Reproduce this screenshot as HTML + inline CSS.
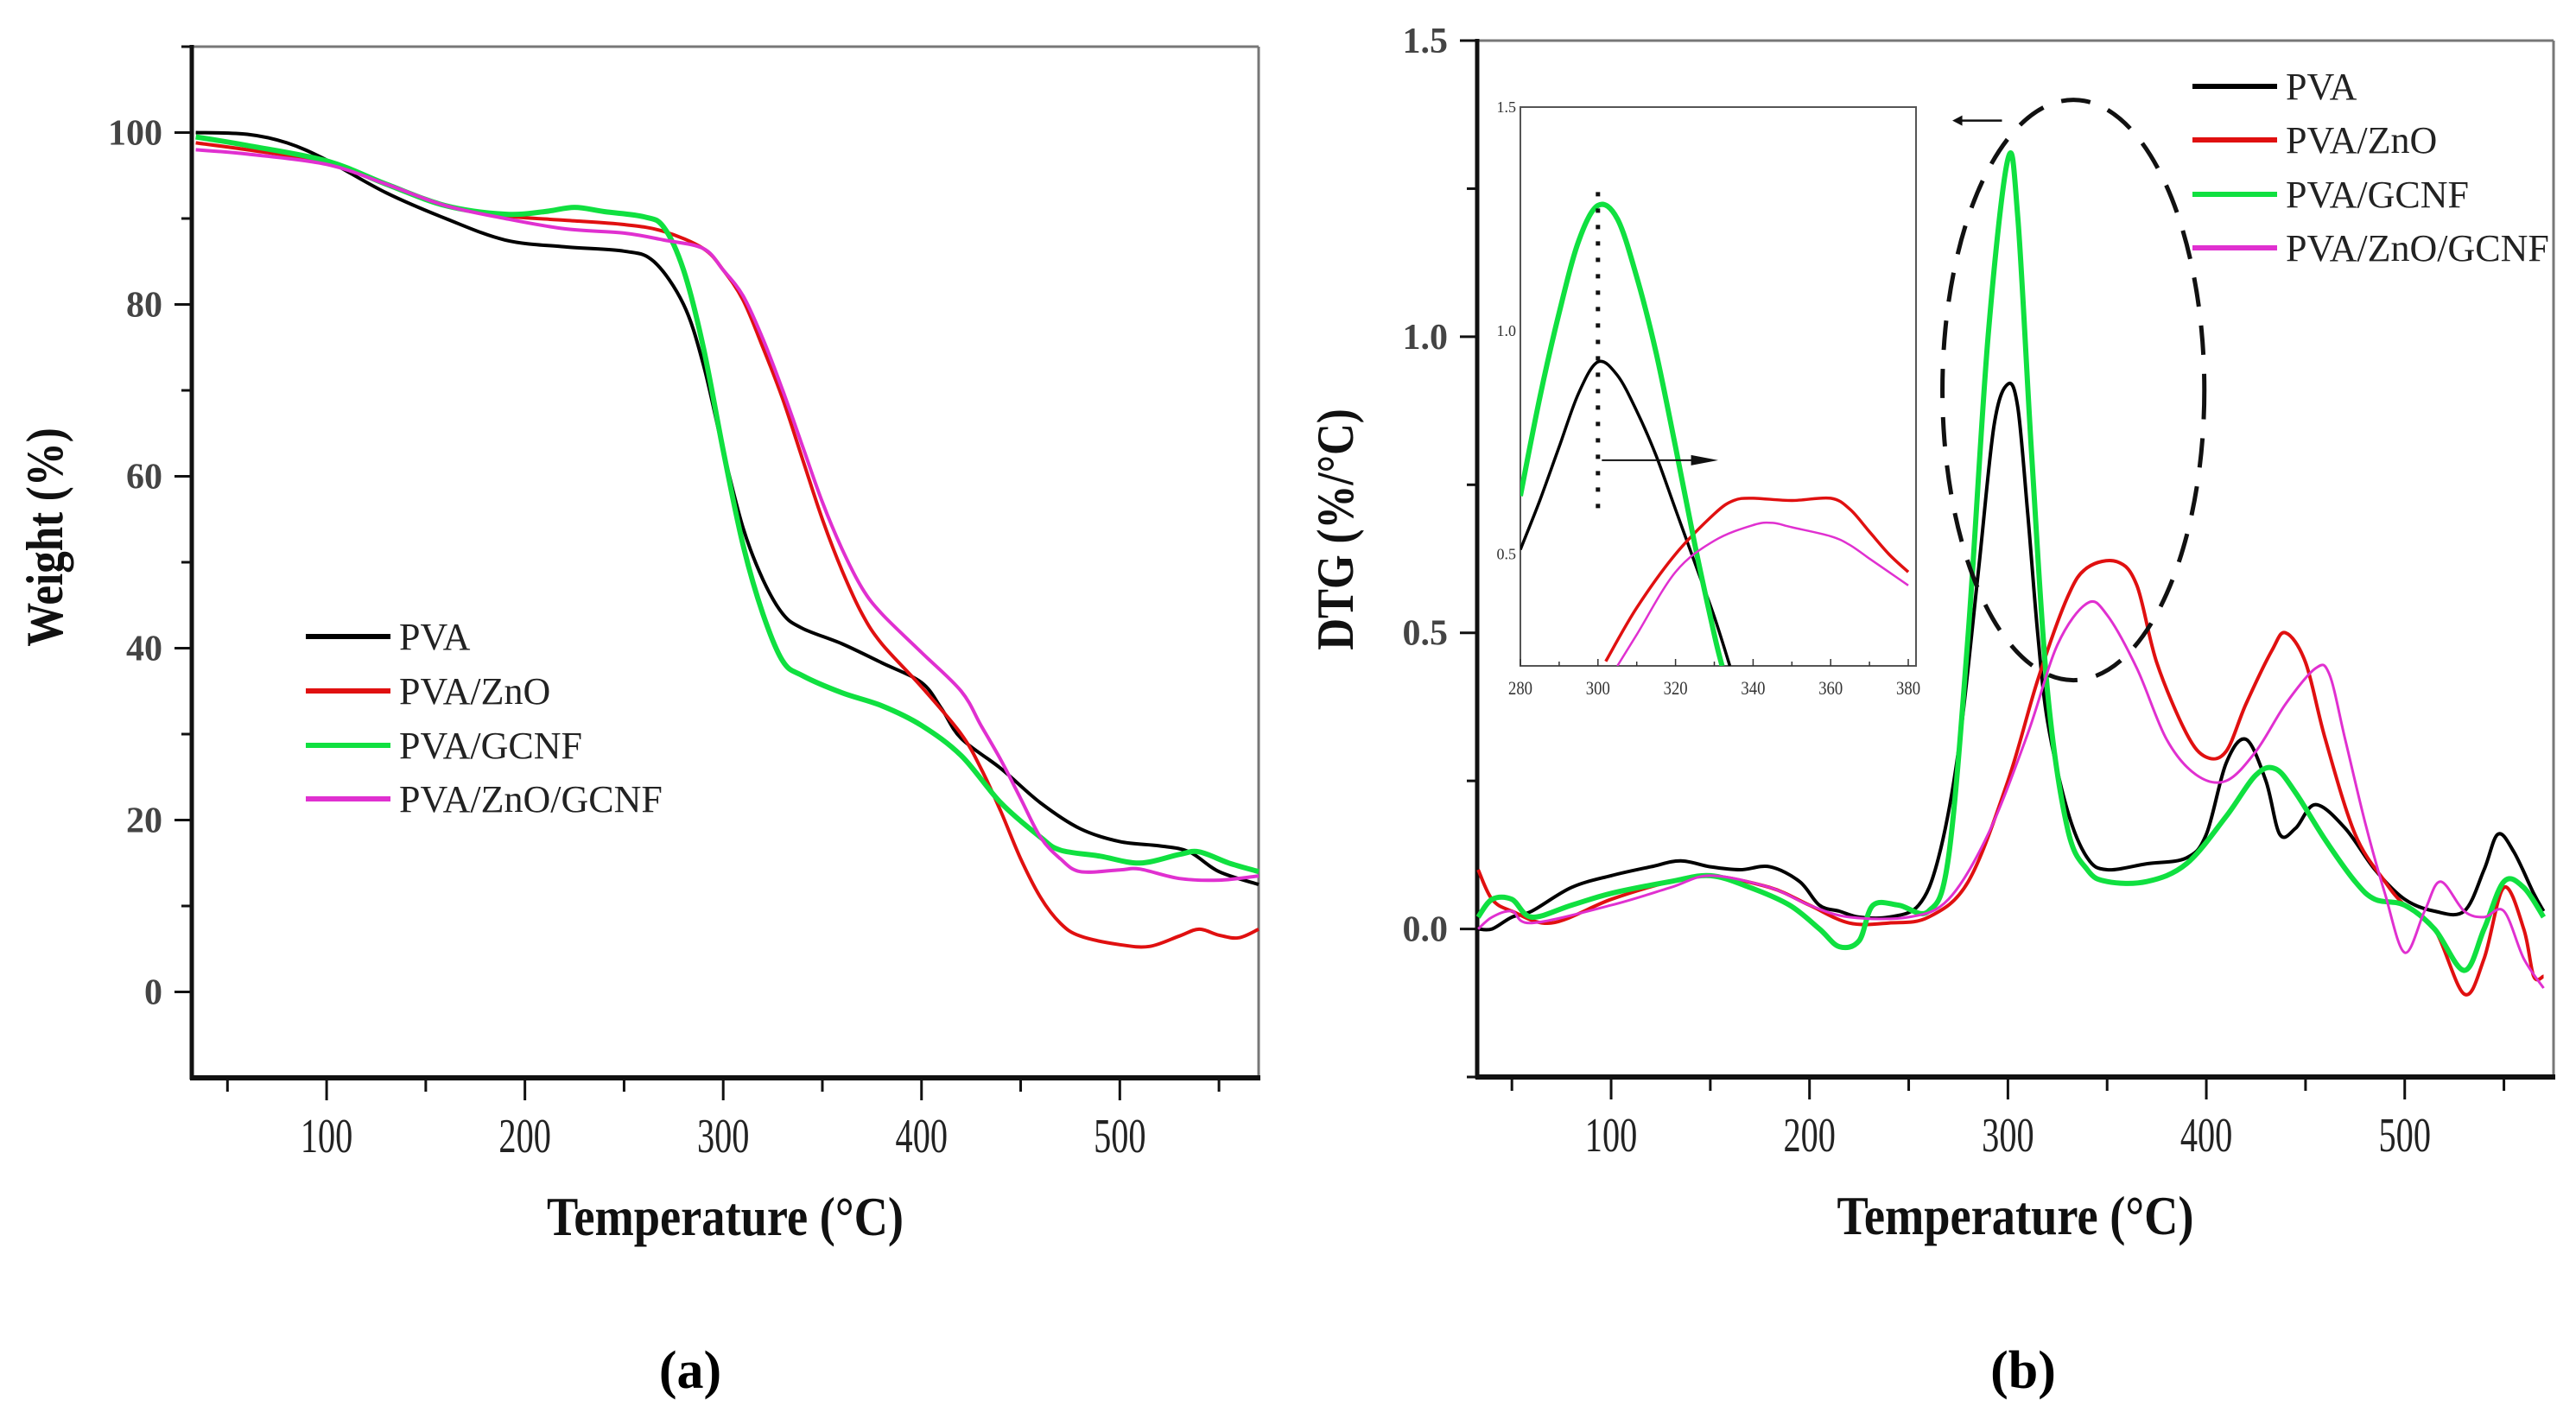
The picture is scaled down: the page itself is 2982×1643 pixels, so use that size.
<!DOCTYPE html>
<html><head><meta charset="utf-8">
<style>
html,body{margin:0;padding:0;background:#fff;}
svg{display:block;}
text{font-family:"Liberation Serif",serif;}
</style></head>
<body>
<svg id="fig" width="2982" height="1643" viewBox="0 0 2982 1643" xmlns="http://www.w3.org/2000/svg">
<g id="gA"></g>
<g id="gB"></g>
<text x="799" y="1607" font-family="Liberation Sans,sans-serif" font-weight="bold" font-size="62" text-anchor="middle">(a)</text>
<text x="2342" y="1607" font-family="Liberation Sans,sans-serif" font-weight="bold" font-size="62" text-anchor="middle">(b)</text>
</svg>
<script>
// ---------- Data: panel (a) TGA ----------
const tgaSeriesNames = ["PVA","PVA/ZnO","PVA/GCNF","PVA/ZnO/GCNF"];
const tgaPVA_T = [34,60,80,100,130,160,190,220,250,265,280,290,300,310,320,330,340,360,380,400,410,420,440,460,480,500,520,535,550,570];
const tgaPVA_W = [100,99.8,98.8,96.8,93,90,87.5,86.7,86.2,85,80,73,63,54,48,44,42.3,40.5,38.3,36,33,29.5,26,22,19,17.5,17,16.3,14,12.5];
const tgaZnO_T = [34,60,100,130,160,190,220,250,270,290,300,310,320,330,340,350,360,370,380,400,420,430,440,450,460,470,480,500,515,530,540,550,560,570];
const tgaZnO_W = [98.8,98,96.5,94,91.5,90.3,89.8,89.3,88.5,86.5,84,80.5,75,69,62,55,49,44,40.5,35.5,30,26,21,15.5,11,8,6.5,5.5,5.3,6.5,7.3,6.6,6.3,7.3];
const tgaGCNF_T = [34,60,100,130,160,190,210,225,240,260,270,280,290,300,310,320,330,340,360,380,400,420,440,460,470,490,510,530,540,555,570];
const tgaGCNF_W = [99.5,98.5,96.7,94,91.5,90.5,90.8,91.3,90.8,90.2,89,84,75,63,52,44,38.5,36.8,34.8,33.3,31,27.5,22,18,16.5,15.8,15,16,16.3,15,14];
const tgaZG_T = [34,60,100,130,160,190,220,250,270,290,300,310,320,330,340,350,360,370,380,400,420,430,440,450,460,470,480,500,510,530,550,570];
const tgaZG_W = [98,97.5,96.3,94,91.5,90,88.8,88.3,87.5,86.5,84,81,76,70,63.5,57,51.5,47,44,39.5,35,31,27,22.5,18,15.5,14,14.2,14.3,13.2,13,13.5];
const tgaXTicks = [100,200,300,400,500];
const tgaYTicks = [0,20,40,60,80,100];

// ---------- Data: panel (b) DTG ----------
const dtgPVA_T = [33,40,50,60,80,100,120,135,150,165,180,195,205,215,225,240,255,265,275,285,293,300,305,310,315,320,330,340,350,370,390,400,410,420,430,437,445,455,470,485,500,515,530,540,547,555,565,570];
const dtgPVA_V = [0,0,0.02,0.03,0.07,0.09,0.105,0.115,0.105,0.1,0.105,0.08,0.04,0.03,0.02,0.02,0.04,0.12,0.3,0.6,0.85,0.92,0.88,0.7,0.5,0.35,0.2,0.12,0.1,0.11,0.12,0.16,0.28,0.32,0.25,0.16,0.17,0.21,0.17,0.1,0.05,0.03,0.03,0.1,0.16,0.13,0.06,0.03];
const dtgZnO_T = [33,40,50,70,100,130,150,180,200,220,240,260,280,300,315,330,340,355,365,375,390,400,410,420,433,440,450,460,475,490,500,515,530,540,550,560,565,570];
const dtgZnO_V = [0.1,0.05,0.03,0.01,0.05,0.08,0.09,0.07,0.04,0.01,0.01,0.02,0.08,0.25,0.42,0.56,0.61,0.62,0.58,0.45,0.33,0.29,0.3,0.38,0.47,0.5,0.45,0.32,0.16,0.08,0.04,0,-0.11,-0.05,0.07,0,-0.08,-0.08];
const dtgGCNF_T = [33,40,50,60,80,100,130,150,170,190,205,215,225,232,245,260,270,280,290,300,305,312,320,330,340,350,370,390,410,425,435,445,460,475,485,500,515,530,540,550,560,570];
const dtgGCNF_V = [0.02,0.05,0.05,0.02,0.04,0.06,0.08,0.09,0.07,0.04,0,-0.03,-0.02,0.04,0.04,0.03,0.12,0.5,1.0,1.3,1.2,0.8,0.4,0.17,0.1,0.08,0.08,0.11,0.19,0.26,0.27,0.23,0.15,0.08,0.05,0.04,0,-0.07,0,0.08,0.07,0.02];
const dtgZG_T = [33,40,50,60,100,130,150,180,200,220,250,270,290,310,325,340,350,365,380,395,410,425,440,455,462,470,480,490,500,510,518,530,540,550,560,570];
const dtgZG_V = [0,0.02,0.03,0.01,0.04,0.07,0.09,0.07,0.04,0.02,0.02,0.05,0.16,0.33,0.48,0.55,0.53,0.44,0.32,0.26,0.25,0.3,0.38,0.44,0.43,0.32,0.18,0.06,-0.04,0.03,0.08,0.03,0.02,0.03,-0.05,-0.1];
const dtgXTicks = [100,200,300,400,500];
const dtgYTicks = [0,0.5,1.0,1.5];
const dtgYTickLabels = ["0.0","0.5","1.0","1.5"];

// ---------- Data: inset ----------
const insPVA_T = [280,285,290,295,300,305,310,315,320,325,330,334];
const insPVA_V = [0.51,0.62,0.74,0.86,0.93,0.9,0.82,0.72,0.6,0.48,0.36,0.25];
const insGCNF_T = [280,285,290,295,300,305,310,315,320,325,330,332];
const insGCNF_V = [0.63,0.85,1.04,1.2,1.28,1.25,1.12,0.95,0.74,0.52,0.32,0.25];
const insZnO_T = [302,310,320,330,335,340,350,360,365,370,375,380];
const insZnO_V = [0.26,0.38,0.5,0.59,0.62,0.625,0.62,0.625,0.6,0.55,0.5,0.46];
const insZG_T = [305,310,320,330,340,345,350,360,365,370,375,380];
const insZG_V = [0.25,0.32,0.46,0.53,0.565,0.57,0.56,0.54,0.52,0.49,0.46,0.43];
const insXTicks = [280,300,320,340,360,380];
const insYTicks = [0.5,1.0,1.5];

const colors = ["#000000","#e01010","#10e040","#e030d0"];
const NS = "http://www.w3.org/2000/svg";
function mk(parent, tag, attrs){
  const e = document.createElementNS(NS, tag);
  for (const k in attrs) e.setAttribute(k, attrs[k]);
  parent.appendChild(e);
  return e;
}
function scale(d0,d1,r0,r1){ return v => r0 + (v-d0)*(r1-r0)/(d1-d0); }
function pathD(xs, ys, sx, sy){
  const P = xs.map((t,i)=>[sx(t), sy(ys[i])]);
  let d = "M" + P[0][0].toFixed(1) + "," + P[0][1].toFixed(1);
  for (let i=0;i<P.length-1;i++){
    const p0 = P[Math.max(0,i-1)], p1 = P[i], p2 = P[i+1], p3 = P[Math.min(P.length-1,i+2)];
    const c1x = p1[0] + (p2[0]-p0[0])/6, c1y = p1[1] + (p2[1]-p0[1])/6;
    const c2x = p2[0] - (p3[0]-p1[0])/6, c2y = p2[1] - (p3[1]-p1[1])/6;
    d += "C" + c1x.toFixed(1)+","+c1y.toFixed(1)+" "+c2x.toFixed(1)+","+c2y.toFixed(1)+" "+p2[0].toFixed(1)+","+p2[1].toFixed(1);
  }
  return d;
}

function frame(g, L, R, T, B){
  const top = mk(g,"line",{x1:L,y1:T,x2:R,y2:T,stroke:"#777","stroke-width":3});
  
  
  const right = mk(g,"line",{x1:R,y1:T,x2:R,y2:B,stroke:"#777","stroke-width":3});
  
  
  const la = mk(g,"line",{x1:L,y1:T-2,x2:L,y2:B+2,stroke:"#111","stroke-width":5});
  
  
  const ba = mk(g,"line",{x1:L-2,y1:B,x2:R+2,y2:B,stroke:"#111","stroke-width":6});
  
  
}

function drawPanel(g, cfg){
  const sx = scale(cfg.x0,cfg.x1,cfg.L,cfg.R);
  const sy = scale(cfg.y0,cfg.y1,cfg.B,cfg.T);
  frame(g,cfg.L,cfg.R,cfg.T,cfg.B);
  for (let v=50; v<=cfg.x1; v+=50){
    const major = v%100===0;
    const t = mk(g,"line",{x1:sx(v),y1:cfg.B,x2:sx(v),y2:cfg.B+(major?26:16),stroke:"#111","stroke-width":3});
    
    
  }
  cfg.xTicks.forEach(v=>{
    const t = mk(g,"text",{x:0,y:0,"font-size":56,fill:"#222","text-anchor":"middle",transform:`translate(${sx(v)},${cfg.B+86}) scale(0.72,1)`});
    t.textContent = v;
    
    
  });
  cfg.yMinor.forEach(v=>{
    const t = mk(g,"line",{x1:cfg.L-12,y1:sy(v),x2:cfg.L,y2:sy(v),stroke:"#111","stroke-width":3});
    
    
  });
  cfg.yTicks.forEach((v,i)=>{
    const t = mk(g,"line",{x1:cfg.L-20,y1:sy(v),x2:cfg.L,y2:sy(v),stroke:"#111","stroke-width":3});
    
    
    const l = mk(g,"text",{x:cfg.L-34,y:sy(v)+14,"font-size":42,"font-weight":"bold",fill:"#444","text-anchor":"end"});
    l.textContent = cfg.yLabels[i];
    
    
  });
  cfg.series.forEach((s,i)=>{
    const p = mk(g,"path",{d:pathD(s[0],s[1],sx,sy),fill:"none",stroke:colors[i],"stroke-width":cfg.widths[i],"stroke-linejoin":"round"});
    
    
  });
  const xt = mk(g,"text",{x:0,y:0,"font-size":64,"font-weight":"bold",fill:"#111","text-anchor":"middle",transform:`translate(${(cfg.L+cfg.R)/2},${cfg.B+182}) scale(0.85,1)`});
  xt.textContent = "Temperature (°C)";
  
  
  const yt = mk(g,"text",{x:0,y:0,"font-size":60,"font-weight":"bold",fill:"#111","text-anchor":"middle",transform:`translate(${cfg.yTitleX},${cfg.yTitleY}) rotate(-90) scale(0.85,1)`});
  yt.textContent = cfg.yTitle;
  
  
  tgaSeriesNames.forEach((n,i)=>{
    const y = cfg.legY[i];
    const ln = mk(g,"line",{x1:cfg.legX,y1:y,x2:cfg.legX+98,y2:y,stroke:colors[i],"stroke-width":6});
    
    
    const tx = mk(g,"text",{x:cfg.legX+108,y:y+15,"font-size":44,fill:"#222"});
    tx.textContent = n;
    
    
  });
  return {sx,sy};
}

const gA = document.getElementById("gA");
drawPanel(gA,{x0:32,x1:570,y0:-10,y1:110,L:222,R:1457,T:54,B:1248,
  xTicks:tgaXTicks,yTicks:tgaYTicks,yLabels:tgaYTicks.map(String),yMinor:[10,30,50,70,90,110],
  series:[[tgaPVA_T,tgaPVA_W],[tgaZnO_T,tgaZnO_W],[tgaGCNF_T,tgaGCNF_W],[tgaZG_T,tgaZG_W]],
  widths:[4,4,6,4],yTitle:"Weight (%)",yTitleX:72,yTitleY:622,legX:354,legY:[737,800,863,925]});

const gB = document.getElementById("gB");
const B = drawPanel(gB,{x0:32.5,x1:575,y0:-0.25,y1:1.5,L:1710,R:2956,T:47,B:1247,
  xTicks:dtgXTicks,yTicks:dtgYTicks,yLabels:dtgYTickLabels,yMinor:[-0.25,0.25,0.75,1.25],
  series:[[dtgPVA_T,dtgPVA_V],[dtgZnO_T,dtgZnO_V],[dtgGCNF_T,dtgGCNF_V],[dtgZG_T,dtgZG_V]],
  widths:[4,4,6,3],yTitle:"DTG (%/°C)",yTitleX:1566,yTitleY:613,legX:2538,legY:[100,162,225,287]});

const ell = mk(gB,"ellipse",{cx:B.sx(333),cy:B.sy(0.91),rx:B.sx(399)-B.sx(333),ry:B.sy(0.42)-B.sy(0.91),fill:"none",stroke:"#111","stroke-width":5,"stroke-dasharray":"34,22"});


const arrL = mk(gB,"line",{x1:B.sx(297),y1:B.sy(1.365),x2:B.sx(275),y2:B.sy(1.365),stroke:"#111","stroke-width":2.5});


const arrH = mk(gB,"polygon",{points:`${B.sx(272)},${B.sy(1.365)} ${B.sx(277)},${B.sy(1.365)-6} ${B.sx(277)},${B.sy(1.365)+6}`,fill:"#111"});



const gI = mk(gB,"g",{});


const iL=1760,iR=2218,iT=124,iB=771;
const ix = scale(280,382,iL,iR), iy = scale(0.25,1.5,iB,iT);
const ir = mk(gI,"rect",{x:iL,y:iT,width:iR-iL,height:iB-iT,fill:"#fff",stroke:"#555","stroke-width":2});


for (let v=280; v<=380; v+=10){
  const t = mk(gI,"line",{x1:ix(v),y1:iB,x2:ix(v),y2:iB-(v%20===0?8:5),stroke:"#333","stroke-width":1.5});
  
  
}
insXTicks.forEach(v=>{
  const t = mk(gI,"text",{x:0,y:0,"font-size":22,fill:"#333","text-anchor":"middle",transform:`translate(${ix(v)},${iB+33}) scale(0.85,1)`});
  t.textContent = v;
  
  
});
insYTicks.forEach(v=>{
  const t = mk(gI,"text",{x:iL-5,y:iy(v)+6,"font-size":18,fill:"#333","text-anchor":"end"});
  t.textContent = v.toFixed(1);
  
  
});
const clip = mk(gI,"clipPath",{id:"insClip"});
mk(clip,"rect",{x:iL,y:iT,width:iR-iL,height:iB-iT});
const insSeries = [[insPVA_T,insPVA_V],[insZnO_T,insZnO_V],[insGCNF_T,insGCNF_V],[insZG_T,insZG_V]];
const insW = [3.5,3.5,6,2.5];
insSeries.forEach((s,i)=>{
  const p = mk(gI,"path",{d:pathD(s[0],s[1],ix,iy),fill:"none",stroke:colors[i],"stroke-width":insW[i],"clip-path":"url(#insClip)"});
  
  
});
const dot = mk(gI,"line",{x1:ix(300),y1:iy(1.31),x2:ix(300),y2:iy(0.6),stroke:"#111","stroke-width":5,"stroke-dasharray":"5,14"});


const a2 = mk(gI,"line",{x1:ix(301),y1:iy(0.71),x2:ix(327),y2:iy(0.71),stroke:"#111","stroke-width":2});


const a2h = mk(gI,"polygon",{points:`${ix(331)},${iy(0.71)} ${ix(324)},${iy(0.71)-6} ${ix(324)},${iy(0.71)+6}`,fill:"#111"});


</script>
</body></html>
